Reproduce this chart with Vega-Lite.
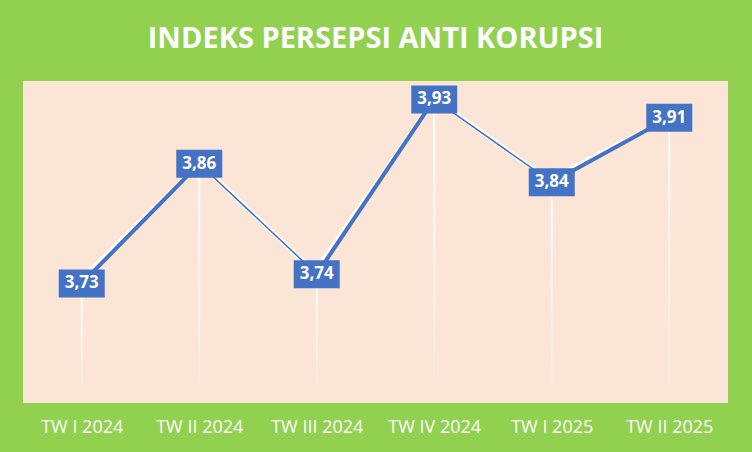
{
  "$schema": "https://vega.github.io/schema/vega-lite/v6.json",
  "width": 705,
  "height": 322,
  "autosize": {"type": "none"},
  "padding": {"left": 23, "top": 81, "right": 24, "bottom": 49},
  "background": "#92D050",
  "config": {
    "view": {"stroke": null, "fill": "#FBE5D6"},
    "font": "Open Sans",
    "locale": {"number": {"decimal": ",", "thousands": ".", "grouping": [3], "currency": ["Rp", ""]}}
  },
  "title": {
    "text": "INDEKS PERSEPSI ANTI KORUPSI",
    "color": "white",
    "fontSize": 29,
    "fontWeight": "bold",
    "font": "Open Sans",
    "anchor": "middle",
    "baseline": "alphabetic",
    "offset": 4
  },
  "datasets": {
    "points": [
      {"q": "TW I 2024", "v": 3.73},
      {"q": "TW II 2024", "v": 3.86},
      {"q": "TW III 2024", "v": 3.74},
      {"q": "TW IV 2024", "v": 3.93},
      {"q": "TW I 2025", "v": 3.84},
      {"q": "TW II 2025", "v": 3.91}
    ],
    "segments": [
      {"q": "TW I 2024", "q2": "TW II 2024", "v": 3.73, "v2": 3.86},
      {"q": "TW II 2024", "q2": "TW III 2024", "v": 3.86, "v2": 3.74},
      {"q": "TW III 2024", "q2": "TW IV 2024", "v": 3.74, "v2": 3.93},
      {"q": "TW IV 2024", "q2": "TW I 2025", "v": 3.93, "v2": 3.84},
      {"q": "TW I 2025", "q2": "TW II 2025", "v": 3.84, "v2": 3.91}
    ]
  },
  "encoding": {
    "x": {
      "field": "q",
      "type": "ordinal",
      "sort": ["TW I 2024", "TW II 2024", "TW III 2024", "TW IV 2024", "TW I 2025", "TW II 2025"],
      "scale": {"type": "point", "padding": 0.5},
      "axis": {
        "title": null,
        "domain": false,
        "ticks": false,
        "grid": false,
        "labelAngle": 0,
        "labelColor": "white",
        "labelFont": "Open Sans",
        "labelFontSize": 18,
        "labelBaseline": "middle",
        "labelPadding": 24
      }
    },
    "y": {
      "field": "v",
      "type": "quantitative",
      "scale": {"domain": [3.6, 3.95], "zero": false, "nice": false},
      "axis": null
    }
  },
  "layer": [
    {
      "data": {"name": "points"},
      "mark": {
        "type": "bar",
        "size": 2,
        "fill": {
          "gradient": "linear",
          "x1": 0, "y1": 0, "x2": 0, "y2": 1,
          "stops": [
            {"offset": 0, "color": "rgba(255,255,255,1)"},
            {"offset": 1, "color": "rgba(255,255,255,0.15)"}
          ]
        }
      },
      "encoding": {"y2": {"datum": 3.62}}
    },
    {
      "data": {"name": "segments"},
      "mark": {"type": "rule", "stroke": "white", "strokeWidth": 4.5, "xOffset": -1.8, "yOffset": -2.8, "strokeCap": "butt"},
      "encoding": {"x2": {"field": "q2"}, "y2": {"field": "v2"}}
    },
    {
      "data": {"name": "segments"},
      "transform": [{"filter": "datum.v2 > datum.v"}],
      "mark": {"type": "rule", "stroke": "#4472C4", "strokeWidth": 4, "strokeCap": "butt"},
      "encoding": {"x2": {"field": "q2"}, "y2": {"field": "v2"}}
    },
    {
      "data": {"name": "segments"},
      "transform": [{"filter": "datum.v2 < datum.v"}],
      "mark": {"type": "rule", "stroke": "#4472C4", "strokeWidth": 1.5, "strokeCap": "butt"},
      "encoding": {"x2": {"field": "q2"}, "y2": {"field": "v2"}}
    },
    {
      "data": {"name": "points"},
      "mark": {
        "type": "point",
        "shape": "M-1,-0.6087H1V0.6087H-1Z",
        "size": 2116,
        "filled": true,
        "fill": "#4472C4",
        "opacity": 1,
        "strokeWidth": 0
      }
    },
    {
      "data": {"name": "points"},
      "mark": {"type": "text", "color": "white", "font": "Open Sans", "fontWeight": "bold", "fontSize": 17, "align": "center", "baseline": "middle"},
      "encoding": {"text": {"field": "v", "type": "quantitative", "format": ".2f"}}
    }
  ]
}
